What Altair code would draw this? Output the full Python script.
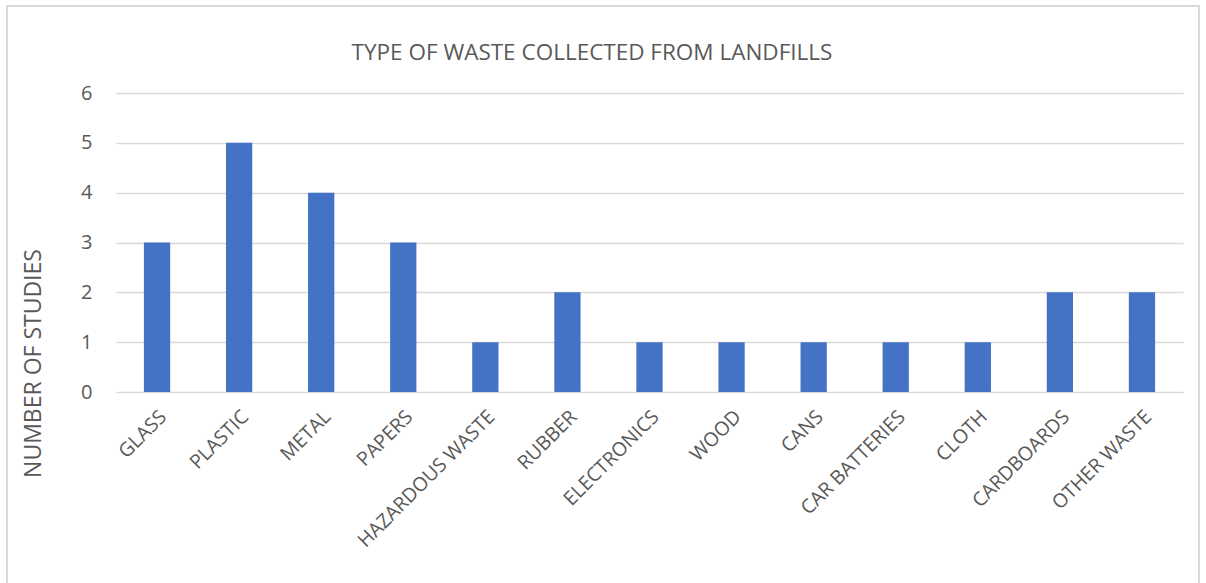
import altair as alt
import pandas as pd

TITLE = "TYPE OF WASTE COLLECTED FROM LANDFILLS"
categories = ["GLASS", "PLASTIC", "METAL", "PAPERS", "HAZARDOUS WASTE", "RUBBER",
              "ELECTRONICS", "WOOD", "CANS", "CAR BATTERIES", "CLOTH", "CARDBOARDS", "OTHER WASTE"]
values = [3, 5, 4, 3, 1, 2, 1, 1, 1, 1, 1, 2, 2]

df = pd.DataFrame({"cat": categories, "val": values})
tdf = pd.DataFrame({"t": [TITLE]})

FONT = "Open Sans"
GREY = "#595959"

bars = alt.Chart(df).mark_bar(color="#4472C4").encode(
    x=alt.X("cat:N", sort=categories,
            scale=alt.Scale(paddingInner=0.68, paddingOuter=0.34),
            axis=alt.Axis(title=None, labelAngle=-45, labelFontSize=19.5, labelColor=GREY,
                          labelFont=FONT, ticks=False, domain=False, labelPadding=15,
                          labelAlign="right", labelBaseline="top", labelOverlap=False,
                          labelLimit=400)),
    y=alt.Y("val:Q", scale=alt.Scale(domain=[0, 6]),
            axis=alt.Axis(title="NUMBER OF STUDIES", titleFontSize=23, titleFont=FONT,
                          titleColor=GREY, titleFontWeight="normal",
                          titleX=-71, titleY=270, titleAngle=-90,
                          values=[0, 1, 2, 3, 4, 5, 6], labelOverlap=False,
                          labelFontSize=20, labelColor=GREY, labelFont=FONT,
                          ticks=False, domain=False, labelPadding=24,
                          gridColor="#d9d9d9", gridWidth=1.5)),
)

border = alt.Chart(df).mark_rect(fill=None, stroke="#d9d9d9", strokeWidth=1.5, clip=False).encode(
    x=alt.value(-109), x2=alt.value(1083), y=alt.value(-87), y2=alt.value(600)
)

title = alt.Chart(tdf).mark_text(font=FONT, fontSize=22.5, color=GREY, align="center",
                                 baseline="middle").encode(
    text="t:N", x=alt.value(476), y=alt.value(-40)
)

chart = alt.layer(border, bars, title).properties(
    width=1067, height=299,
    autosize=alt.AutoSizeParams(type="none"),
    padding={"left": 116, "top": 93, "right": 23, "bottom": 191},
).configure(background="white").configure_view(stroke=None)

chart.save("out.html", embed_options={"renderer": "svg", "actions": False})
